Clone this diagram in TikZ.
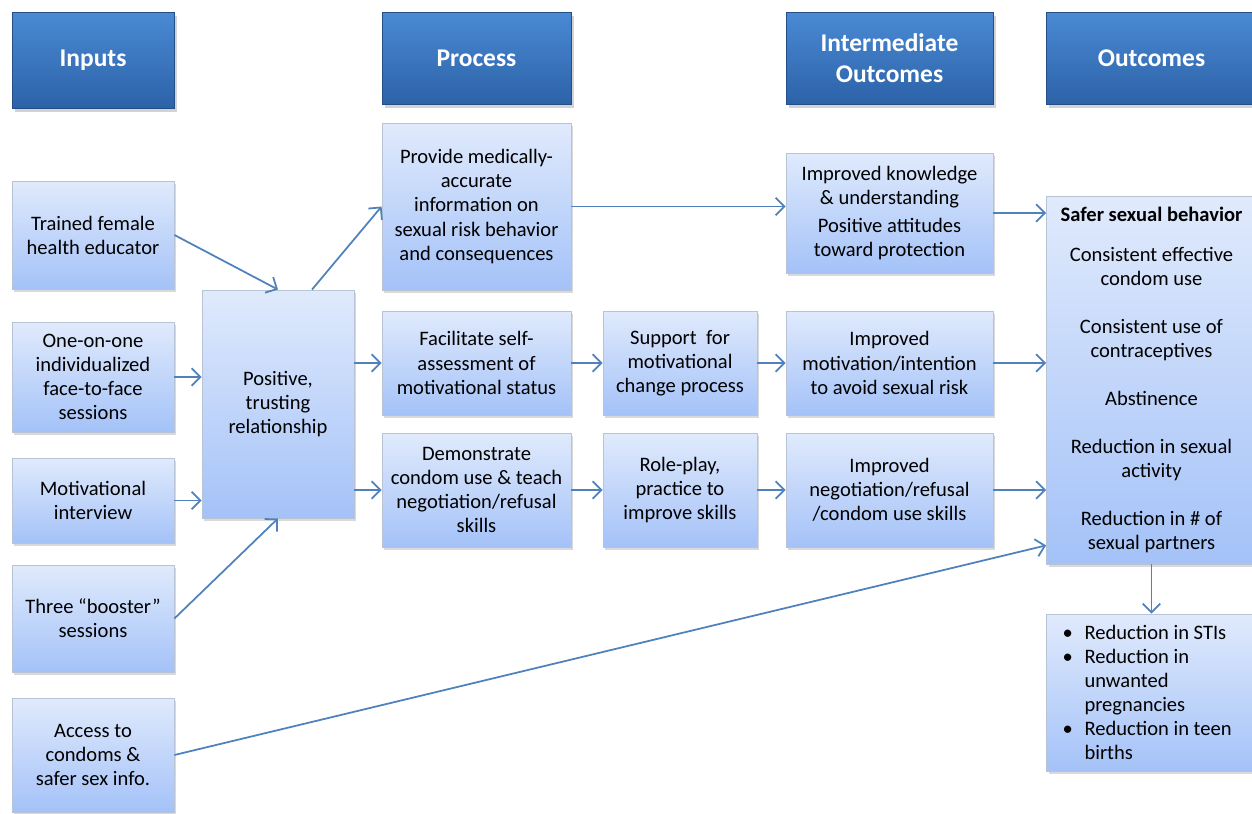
\documentclass[tikz,border=0pt]{standalone}
\usepackage{fontspec}
\setmainfont{Carlito}
\usepackage{xcolor}
\usetikzlibrary{arrows.meta, calc, shadows}

\definecolor{hdtop}{RGB}{74,138,212}
\definecolor{hdbot}{RGB}{44,98,168}
\definecolor{bxtop}{RGB}{224,234,252}
\definecolor{bxbot}{RGB}{164,194,248}
\definecolor{bxline}{RGB}{184,196,214}
\definecolor{linkblue}{RGB}{79,129,189}

\begin{document}
\begin{tikzpicture}[x=0.02cm, y=-0.02cm,
  header/.style={rectangle, draw=hdbot!80!black, line width=0.4pt, top color=hdtop, bottom color=hdbot,
    text=white, font=\fontsize{14.5}{17.6}\selectfont\bfseries, align=center, inner sep=0pt,
    drop shadow={shadow xshift=1.5pt, shadow yshift=-2pt, opacity=0.35}},
  box/.style={rectangle, draw=bxline, line width=0.5pt, top color=bxtop, bottom color=bxbot,
    font=\fontsize{11.7}{13.7}\selectfont, align=center, inner sep=0pt,
    drop shadow={shadow xshift=1.2pt, shadow yshift=-1.5pt, opacity=0.3}},
  link/.style={draw=linkblue, line width=1pt, -{Straight Barb[length=5pt, width=10pt]}}]
\useasboundingbox (0,0) rectangle (1252,814);

% Column headers
\node[header, minimum width=3.24cm, minimum height=1.92cm] (hInputs) at (93,60) {Inputs};
\node[header, minimum width=3.78cm, minimum height=1.84cm] (hProcess) at (476.5,58) {Process};
\node[header, minimum width=4.14cm, minimum height=1.84cm] (hInter) at (889.5,58) {Intermediate\\Outcomes};
\node[header, minimum width=4.2cm, minimum height=1.84cm] (hOutcomes) at (1151.5,58) {Outcomes};

% Inputs
\node[box, minimum width=3.24cm, minimum height=2.16cm] (trained) at (93,235) {Trained female\\health educator};
\node[box, minimum width=3.24cm, minimum height=2.2cm] (oneone) at (93,377) {One-on-one\\individualized\\face-to-face\\sessions};
\node[box, minimum width=3.24cm, minimum height=1.7cm] (motiv) at (93,500.5) {Motivational\\interview};
\node[box, minimum width=3.24cm, minimum height=2.14cm] (booster) at (93,618.5) {Three “booster”\\sessions};
\node[box, minimum width=3.24cm, minimum height=2.28cm] (access) at (93,755) {Access to\\condoms \&\\safer sex info.};

\node[box, minimum width=3.04cm, minimum height=4.56cm] (trust) at (278,404) {Positive,\\trusting\\relationship};

% Process
\node[box, minimum width=3.78cm, minimum height=3.34cm] (provide) at (476.5,206.5) {Provide medically-\\accurate\\information on\\sexual risk behavior\\and consequences};
\node[box, minimum width=3.78cm, minimum height=2.08cm] (facil) at (476.5,363) {Facilitate self-\\assessment of\\motivational status};
\node[box, minimum width=3.78cm, minimum height=2.28cm] (demo) at (476.5,490) {Demonstrate\\condom use \& teach\\negotiation/refusal\\skills};
\node[box, minimum width=3.08cm, minimum height=2.08cm] (support) at (680,363) {Support\ \ for\\motivational\\change process};
\node[box, minimum width=3.08cm, minimum height=2.28cm] (role) at (680,490) {Role-play,\\practice to\\improve skills};

% Intermediate outcomes
\node[box, minimum width=4.14cm, minimum height=2.4cm] (know) at (889.5,213) {Improved knowledge\\\& understanding\\[0.08cm]Positive attitudes\\toward protection};
\node[box, minimum width=4.14cm, minimum height=2.08cm] (motint) at (889.5,363) {Improved\\motivation/intention\\to avoid sexual risk};
\node[box, minimum width=4.14cm, minimum height=2.28cm] (negot) at (889.5,490) {Improved\\negotiation/refusal\\/condom use skills};

% Outcomes
\node[box, minimum width=4.2cm, minimum height=7.36cm] (safer) at (1151.5,380) {\textbf{Safer sexual behavior}\\[0.32cm]Consistent effective\\condom use\\[0.48cm]Consistent use of\\contraceptives\\[0.48cm]Abstinence\\[0.48cm]Reduction in sexual\\activity\\[0.48cm]Reduction in \# of\\sexual partners};
\node[box, text width=3.56cm, inner xsep=0.32cm, align=flush left, minimum height=3.14cm] (impact) at (1151.5,692.5)
  {\makebox[0.44cm][l]{\textbullet}Reduction in STIs\\
   \makebox[0.44cm][l]{\textbullet}Reduction in\\
   \hspace*{0.44cm}unwanted\\
   \hspace*{0.44cm}pregnancies\\
   \makebox[0.44cm][l]{\textbullet}Reduction in teen\\
   \hspace*{0.44cm}births};

% Links
\draw[link] (trained.east) -- (trust.north);
\draw[link] (oneone.east) -- (trust.west |- oneone.east);
\draw[link] (motiv.east) -- (trust.west |- motiv.east);
\draw[link] (booster.east) -- (trust.south);
\draw[link] (access.east) -- ([yshift=0.38cm]safer.south west);
\draw[link] ([xshift=0.68cm]trust.north) -- (provide.west);
\draw[link] (trust.east |- facil.west) -- (facil.west);
\draw[link] (trust.east |- demo.west) -- (demo.west);
\draw[link] (provide.east) -- (know.west |- provide.east);
\draw[link] (facil.east) -- (support.west);
\draw[link] (support.east) -- (motint.west);
\draw[link] (demo.east) -- (role.west);
\draw[link] (role.east) -- (negot.west);
\draw[link] (know.east) -- (safer.west |- know.east);
\draw[link] (motint.east) -- (safer.west |- motint.east);
\draw[link] (negot.east) -- (safer.west |- negot.east);
\draw[link] (safer.south) -- (impact.north);
\end{tikzpicture}
\end{document}
